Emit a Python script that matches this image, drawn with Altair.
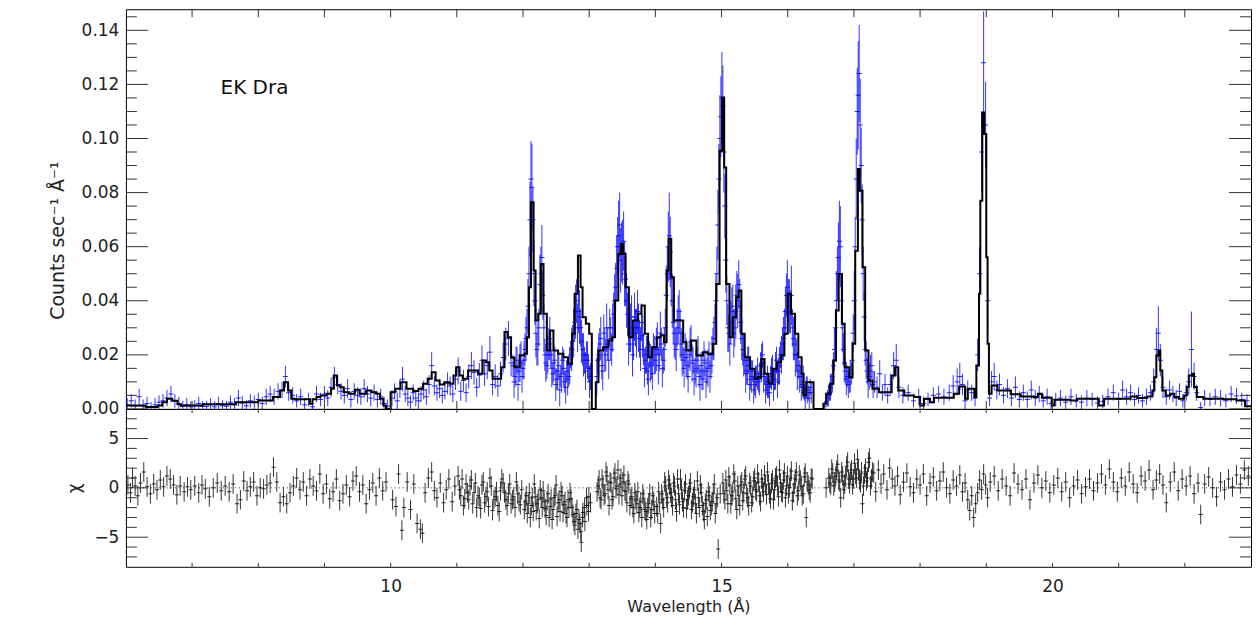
import altair as alt
import pandas as pd

FONT = "DejaVu Sans"

# ---------------- model spectrum (step line): wavelength (A), counts/s/A ----------------
model_pts = [
    (6.00, 0.0013), (6.30, 0.0007), (6.48, 0.0013), (6.55, 0.0025), (6.62, 0.0038), (6.70, 0.0030),
    (6.78, 0.0017), (6.83, 0.0013), (7.16, 0.0017), (7.66, 0.0025), (8.00, 0.0031), (8.22, 0.0044),
    (8.33, 0.0068), (8.39, 0.0099), (8.45, 0.0068), (8.50, 0.0038), (8.55, 0.0036), (8.78, 0.0019),
    (8.82, 0.0036), (8.88, 0.0044), (8.94, 0.0050), (9.03, 0.0056), (9.10, 0.0075), (9.14, 0.0124),
    (9.19, 0.0087), (9.24, 0.0080), (9.29, 0.0062), (9.37, 0.0056), (9.46, 0.0071), (9.53, 0.0056),
    (9.63, 0.0068), (9.71, 0.0062), (9.78, 0.0056), (9.84, 0.0038), (9.89, 0.0013), (9.93, 0.0),
    (10.00, 0.0062), (10.07, 0.0075), (10.15, 0.0099), (10.24, 0.0075), (10.34, 0.0066), (10.42, 0.0075),
    (10.49, 0.0093), (10.56, 0.0112), (10.62, 0.0136), (10.68, 0.0105), (10.74, 0.0090), (10.81, 0.0099),
    (10.89, 0.0093), (10.95, 0.0124), (10.99, 0.0154), (11.04, 0.0124), (11.09, 0.0112), (11.17, 0.0142),
    (11.32, 0.0130), (11.39, 0.0179), (11.44, 0.0173), (11.49, 0.0142), (11.54, 0.0112), (11.67, 0.0154),
    (11.72, 0.0284), (11.77, 0.0265), (11.82, 0.0190), (11.87, 0.0154), (11.95, 0.0198), (12.02, 0.0204),
    (12.06, 0.0265), (12.09, 0.0450), (12.12, 0.0764), (12.16, 0.0512), (12.19, 0.0327), (12.23, 0.0352),
    (12.27, 0.0536), (12.31, 0.0352), (12.36, 0.0216), (12.41, 0.0290), (12.46, 0.0216), (12.53, 0.0204),
    (12.61, 0.0191), (12.68, 0.0167), (12.74, 0.0278), (12.78, 0.0426), (12.83, 0.0567), (12.87, 0.0450),
    (12.90, 0.0339), (12.95, 0.0315), (13.00, 0.0278), (13.04, 0.0), (13.10, 0.0099), (13.14, 0.0216),
    (13.21, 0.0228), (13.29, 0.0253), (13.35, 0.0265), (13.39, 0.0401), (13.44, 0.0573), (13.48, 0.0610),
    (13.51, 0.0573), (13.55, 0.0450), (13.60, 0.0265), (13.66, 0.0327), (13.74, 0.0352), (13.79, 0.0382),
    (13.84, 0.0278), (13.89, 0.0191), (13.95, 0.0228), (14.02, 0.0265), (14.08, 0.0272), (14.13, 0.0247),
    (14.17, 0.0512), (14.20, 0.0629), (14.24, 0.0487), (14.28, 0.0327), (14.42, 0.0247), (14.47, 0.0216),
    (14.54, 0.0253), (14.62, 0.0198), (14.72, 0.0210), (14.79, 0.0204), (14.87, 0.0241), (14.92, 0.0462),
    (14.97, 0.0955), (15.01, 0.1152), (15.04, 0.0893), (15.07, 0.0462), (15.12, 0.0265), (15.17, 0.0339),
    (15.22, 0.0413), (15.26, 0.0438), (15.30, 0.0278), (15.35, 0.0191), (15.43, 0.0149), (15.50, 0.0112),
    (15.55, 0.0117), (15.60, 0.0185), (15.65, 0.0130), (15.71, 0.0093), (15.77, 0.0149), (15.84, 0.0173),
    (15.90, 0.0198), (15.95, 0.0278), (16.00, 0.0426), (16.05, 0.0352), (16.11, 0.0278), (16.16, 0.0191),
    (16.21, 0.0130), (16.24, 0.0050), (16.28, 0.0099), (16.39, 0.0), (16.54, 0.0019), (16.58, 0.0056),
    (16.64, 0.0093), (16.69, 0.0179), (16.73, 0.0364), (16.77, 0.0499), (16.82, 0.0315), (16.86, 0.0154),
    (16.93, 0.0117), (16.98, 0.0241), (17.02, 0.0585), (17.06, 0.0887), (17.09, 0.0807), (17.13, 0.0524),
    (17.17, 0.0216), (17.22, 0.0105), (17.28, 0.0075), (17.38, 0.0062), (17.57, 0.0124), (17.62, 0.0154),
    (17.67, 0.0068), (17.76, 0.0050), (17.91, 0.0044), (18.00, 0.0013), (18.06, 0.0038), (18.15, 0.0025),
    (18.21, 0.0041), (18.51, 0.0056), (18.59, 0.0083), (18.68, 0.0038), (18.72, 0.0075), (18.82, 0.0044),
    (18.85, 0.0161), (18.89, 0.0426), (18.91, 0.0770), (18.94, 0.1096), (18.97, 0.1017), (19.00, 0.0561),
    (19.02, 0.0241), (19.04, 0.0056), (19.08, 0.0087), (19.17, 0.0068), (19.37, 0.0054), (19.52, 0.0046),
    (19.72, 0.0044), (19.78, 0.0056), (19.84, 0.0041), (19.99, 0.0013), (20.03, 0.0034), (20.27, 0.0031),
    (20.37, 0.0038), (20.70, 0.0013), (20.78, 0.0038), (21.18, 0.0046), (21.28, 0.0040), (21.43, 0.0046),
    (21.51, 0.0068), (21.54, 0.0117), (21.57, 0.0198), (21.60, 0.0216), (21.63, 0.0142), (21.66, 0.0068),
    (21.71, 0.0050), (21.78, 0.0056), (21.84, 0.0044), (21.91, 0.0038), (21.99, 0.0050), (22.03, 0.0081),
    (22.06, 0.0124), (22.11, 0.0130), (22.14, 0.0081), (22.18, 0.0044), (22.28, 0.0038), (22.58, 0.0036),
    (22.78, 0.0031), (22.91, 0.0010), (23.00, 0.0010),
]

# ---------------- observed spectrum: (wavelength, flux, 1-sigma error) ----------------
obs_short = [
    (6.02, 0.0015, 0.0025), (6.08, 0.0030, 0.0025), (6.14, 0.0010, 0.0025), (6.20, 0.0045, 0.0030),
    (6.26, 0.0010, 0.0025), (6.32, 0.0020, 0.0025), (6.38, 0.0005, 0.0020), (6.44, 0.0015, 0.0025),
    (6.50, 0.0025, 0.0025), (6.56, 0.0030, 0.0025), (6.62, 0.0040, 0.0030), (6.68, 0.0055, 0.0030),
    (6.74, 0.0030, 0.0025), (6.80, 0.0020, 0.0025), (6.86, 0.0010, 0.0020), (6.92, 0.0015, 0.0025),
    (6.98, 0.0008, 0.0020), (7.04, 0.0012, 0.0020), (7.10, 0.0020, 0.0025), (7.16, 0.0009, 0.0020),
    (7.22, 0.0010, 0.0020), (7.28, 0.0015, 0.0025), (7.34, 0.0008, 0.0020), (7.40, 0.0020, 0.0025),
    (7.46, 0.0012, 0.0020), (7.52, 0.0010, 0.0020), (7.58, 0.0025, 0.0025), (7.64, 0.0015, 0.0025),
    (7.70, 0.0040, 0.0030), (7.76, 0.0022, 0.0025), (7.82, 0.0012, 0.0020), (7.88, 0.0030, 0.0025),
    (7.94, 0.0025, 0.0025), (8.00, 0.0035, 0.0025), (8.06, 0.0020, 0.0025), (8.12, 0.0045, 0.0030),
    (8.18, 0.0055, 0.0030), (8.24, 0.0045, 0.0030), (8.30, 0.0065, 0.0030), (8.36, 0.0070, 0.0030),
    (8.41, 0.0120, 0.0040), (8.46, 0.0060, 0.0030), (8.52, 0.0050, 0.0030), (8.58, 0.0030, 0.0025),
    (8.64, 0.0045, 0.0030), (8.70, 0.0015, 0.0025), (8.76, 0.0035, 0.0025), (8.82, 0.0008, 0.0020),
    (8.88, 0.0055, 0.0030), (8.94, 0.0035, 0.0025),
]
obs_mid = [
    (9.00, 0.0055, 0.0030), (9.05, 0.0040, 0.0030), (9.10, 0.0080, 0.0035), (9.15, 0.0115, 0.0040),
    (9.20, 0.0090, 0.0035), (9.25, 0.0065, 0.0030), (9.30, 0.0050, 0.0030), (9.35, 0.0075, 0.0035),
    (9.40, 0.0035, 0.0030), (9.45, 0.0065, 0.0030), (9.50, 0.0050, 0.0030), (9.55, 0.0045, 0.0030),
    (9.60, 0.0075, 0.0035), (9.65, 0.0055, 0.0030), (9.70, 0.0040, 0.0030), (9.75, 0.0060, 0.0030),
    (9.80, 0.0035, 0.0030), (9.85, 0.0045, 0.0030), (9.90, 0.0020, 0.0025), (9.95, 0.0010, 0.0025),
    (10.02, 0.0040, 0.0030), (10.06, 0.0065, 0.0030), (10.10, 0.0030, 0.0030), (10.14, 0.0075, 0.0035),
    (10.18, 0.0110, 0.0045), (10.22, 0.0055, 0.0030), (10.26, 0.0040, 0.0030), (10.30, 0.0025, 0.0025),
    (10.34, 0.0060, 0.0030), (10.38, 0.0040, 0.0030), (10.42, 0.0030, 0.0030), (10.46, 0.0055, 0.0030),
    (10.50, 0.0070, 0.0035), (10.54, 0.0045, 0.0030), (10.58, 0.0090, 0.0035), (10.62, 0.0160, 0.0050),
    (10.66, 0.0085, 0.0035), (10.70, 0.0060, 0.0030), (10.74, 0.0075, 0.0035), (10.78, 0.0050, 0.0030),
    (10.82, 0.0065, 0.0030), (10.86, 0.0095, 0.0040), (10.90, 0.0085, 0.0035), (10.94, 0.0055, 0.0030),
    (10.98, 0.0110, 0.0040), (11.02, 0.0140, 0.0050), (11.06, 0.0065, 0.0035), (11.10, 0.0105, 0.0040),
    (11.14, 0.0060, 0.0035), (11.18, 0.0120, 0.0045), (11.22, 0.0160, 0.0050), (11.26, 0.0135, 0.0045),
    (11.30, 0.0080, 0.0035), (11.34, 0.0125, 0.0045), (11.38, 0.0180, 0.0055), (11.42, 0.0130, 0.0045),
    (11.46, 0.0160, 0.0050), (11.50, 0.0210, 0.0060), (11.54, 0.0090, 0.0040), (11.58, 0.0120, 0.0045),
    (11.62, 0.0085, 0.0040), (11.66, 0.0130, 0.0045), (11.70, 0.0190, 0.0055), (11.74, 0.0240, 0.0060),
    (11.78, 0.0260, 0.0065), (11.82, 0.0170, 0.0050),
]
obs_dense = [
    (11.85, 0.016, 0.004), (11.88, 0.012, 0.004), (11.91, 0.018, 0.005), (11.94, 0.014, 0.004),
    (11.97, 0.020, 0.005), (12.00, 0.015, 0.004), (12.03, 0.022, 0.006), (12.06, 0.030, 0.007),
    (12.09, 0.050, 0.010), (12.12, 0.085, 0.014), (12.15, 0.070, 0.012), (12.18, 0.040, 0.009),
    (12.21, 0.022, 0.006), (12.24, 0.030, 0.007), (12.27, 0.050, 0.010), (12.30, 0.042, 0.009),
    (12.33, 0.020, 0.006), (12.36, 0.016, 0.005), (12.39, 0.024, 0.006), (12.42, 0.020, 0.005),
    (12.45, 0.013, 0.004), (12.48, 0.018, 0.005), (12.51, 0.011, 0.004), (12.54, 0.016, 0.005),
    (12.57, 0.012, 0.004), (12.60, 0.018, 0.005), (12.63, 0.010, 0.004), (12.66, 0.014, 0.004),
    (12.69, 0.012, 0.004), (12.72, 0.020, 0.005), (12.75, 0.025, 0.006), (12.78, 0.032, 0.007),
    (12.81, 0.040, 0.008), (12.84, 0.036, 0.008), (12.87, 0.030, 0.007), (12.90, 0.022, 0.006),
    (12.93, 0.018, 0.005), (12.96, 0.020, 0.005), (12.99, 0.015, 0.005), (13.02, 0.012, 0.005),
    (13.13, 0.018, 0.005), (13.16, 0.024, 0.006), (13.19, 0.016, 0.005), (13.22, 0.028, 0.007),
    (13.25, 0.020, 0.006), (13.28, 0.024, 0.006), (13.31, 0.030, 0.007), (13.34, 0.022, 0.006),
    (13.37, 0.035, 0.008), (13.40, 0.045, 0.009), (13.43, 0.060, 0.011), (13.46, 0.068, 0.012),
    (13.49, 0.058, 0.011), (13.52, 0.062, 0.011), (13.55, 0.048, 0.010), (13.58, 0.035, 0.008),
    (13.61, 0.028, 0.007), (13.64, 0.034, 0.008), (13.67, 0.024, 0.006), (13.70, 0.030, 0.007),
    (13.73, 0.036, 0.008), (13.76, 0.026, 0.007), (13.79, 0.032, 0.007), (13.82, 0.022, 0.006),
    (13.85, 0.018, 0.005), (13.88, 0.014, 0.005), (13.91, 0.020, 0.005), (13.94, 0.016, 0.005),
    (13.97, 0.022, 0.006), (14.00, 0.018, 0.005), (14.03, 0.026, 0.006), (14.06, 0.020, 0.006),
    (14.09, 0.024, 0.006), (14.12, 0.018, 0.005), (14.15, 0.030, 0.007), (14.18, 0.050, 0.010),
    (14.21, 0.064, 0.016), (14.24, 0.048, 0.010), (14.27, 0.032, 0.008), (14.30, 0.024, 0.006),
    (14.33, 0.030, 0.007), (14.36, 0.036, 0.008), (14.39, 0.024, 0.006), (14.42, 0.018, 0.005),
    (14.45, 0.022, 0.006), (14.48, 0.016, 0.005), (14.51, 0.020, 0.005), (14.54, 0.025, 0.006),
    (14.57, 0.018, 0.005), (14.60, 0.014, 0.005), (14.63, 0.018, 0.005), (14.66, 0.012, 0.004),
    (14.69, 0.016, 0.005), (14.72, 0.011, 0.004), (14.75, 0.017, 0.005), (14.78, 0.014, 0.005),
    (14.81, 0.020, 0.005), (14.84, 0.016, 0.005), (14.87, 0.024, 0.006), (14.90, 0.032, 0.007),
    (14.93, 0.050, 0.010), (14.96, 0.085, 0.013), (14.99, 0.108, 0.015), (15.02, 0.112, 0.015),
    (15.05, 0.075, 0.012), (15.08, 0.040, 0.009), (15.11, 0.028, 0.007), (15.14, 0.032, 0.008),
    (15.17, 0.038, 0.008), (15.20, 0.030, 0.007), (15.23, 0.042, 0.009), (15.26, 0.046, 0.009),
    (15.29, 0.032, 0.008), (15.32, 0.022, 0.006), (15.35, 0.018, 0.005), (15.38, 0.014, 0.005),
    (15.41, 0.018, 0.005), (15.44, 0.011, 0.004), (15.47, 0.014, 0.004), (15.50, 0.009, 0.004),
    (15.53, 0.012, 0.004), (15.56, 0.010, 0.004), (15.59, 0.016, 0.005), (15.62, 0.020, 0.005),
    (15.65, 0.013, 0.004), (15.68, 0.009, 0.004), (15.71, 0.008, 0.004), (15.74, 0.012, 0.004),
    (15.77, 0.015, 0.005), (15.80, 0.011, 0.004), (15.83, 0.018, 0.005), (15.86, 0.014, 0.005),
    (15.89, 0.020, 0.005), (15.92, 0.024, 0.006), (15.95, 0.030, 0.007), (15.98, 0.042, 0.008),
    (16.01, 0.040, 0.008), (16.04, 0.036, 0.008), (16.07, 0.030, 0.007), (16.10, 0.024, 0.006),
    (16.13, 0.020, 0.006), (16.16, 0.016, 0.005), (16.19, 0.012, 0.004), (16.22, 0.009, 0.004),
    (16.25, 0.006, 0.003), (16.28, 0.008, 0.004), (16.31, 0.006, 0.003), (16.34, 0.008, 0.003),
    (16.56, 0.001, 0.002), (16.60, 0.004, 0.003), (16.63, 0.006, 0.003), (16.66, 0.009, 0.004),
    (16.69, 0.016, 0.005), (16.72, 0.030, 0.007), (16.75, 0.050, 0.010), (16.78, 0.062, 0.015),
    (16.81, 0.040, 0.009), (16.84, 0.022, 0.006), (16.87, 0.014, 0.005), (16.90, 0.012, 0.004),
    (16.93, 0.010, 0.004), (16.96, 0.013, 0.004), (16.99, 0.028, 0.007), (17.02, 0.060, 0.011),
    (17.05, 0.110, 0.016), (17.08, 0.124, 0.018), (17.11, 0.090, 0.014), (17.14, 0.050, 0.010),
    (17.17, 0.022, 0.006), (17.20, 0.014, 0.005), (17.23, 0.012, 0.005), (17.27, 0.016, 0.005),
    (17.31, 0.010, 0.004), (17.35, 0.008, 0.004), (17.39, 0.013, 0.005), (17.43, 0.006, 0.003),
    (17.47, 0.009, 0.004), (17.51, 0.005, 0.003), (17.55, 0.009, 0.004), (17.60, 0.016, 0.005),
    (17.64, 0.018, 0.006), (17.68, 0.008, 0.004),
]
# interleaved bins of the dense 12-17 A region
obs_dense2 = [
    (11.865, 0.010, 0.006), (11.895, 0.016, 0.007), (11.925, 0.009, 0.006), (11.955, 0.017, 0.007),
    (11.985, 0.012, 0.006), (12.015, 0.018, 0.007), (12.045, 0.026, 0.008), (12.075, 0.038, 0.010),
    (12.105, 0.070, 0.014), (12.135, 0.082, 0.016), (12.165, 0.050, 0.012), (12.195, 0.028, 0.009),
    (12.225, 0.024, 0.008), (12.255, 0.046, 0.011), (12.285, 0.056, 0.012), (12.315, 0.030, 0.009),
    (12.345, 0.017, 0.007), (12.375, 0.020, 0.007), (12.405, 0.026, 0.008), (12.435, 0.015, 0.007),
    (12.465, 0.017, 0.007), (12.495, 0.009, 0.006), (12.525, 0.014, 0.007), (12.555, 0.007, 0.006),
    (12.585, 0.013, 0.007), (12.615, 0.015, 0.007), (12.645, 0.008, 0.006), (12.675, 0.011, 0.006),
    (12.705, 0.016, 0.007), (12.735, 0.022, 0.008), (12.765, 0.028, 0.009), (12.795, 0.036, 0.010),
    (12.825, 0.030, 0.009), (12.855, 0.034, 0.010), (12.885, 0.025, 0.008), (12.915, 0.020, 0.008),
    (12.945, 0.014, 0.007), (12.975, 0.018, 0.007), (13.005, 0.010, 0.006),
    (13.115, 0.012, 0.007), (13.145, 0.020, 0.008), (13.175, 0.026, 0.008), (13.205, 0.014, 0.007),
    (13.235, 0.022, 0.008), (13.265, 0.030, 0.009), (13.295, 0.018, 0.007), (13.325, 0.026, 0.008),
    (13.355, 0.030, 0.009), (13.385, 0.040, 0.010), (13.415, 0.052, 0.012), (13.445, 0.064, 0.013),
    (13.475, 0.055, 0.012), (13.505, 0.058, 0.012), (13.535, 0.050, 0.012), (13.565, 0.040, 0.010),
    (13.595, 0.024, 0.008), (13.625, 0.030, 0.009), (13.655, 0.020, 0.008), (13.685, 0.034, 0.009),
    (13.715, 0.028, 0.009), (13.745, 0.030, 0.009), (13.775, 0.022, 0.008), (13.805, 0.027, 0.008),
    (13.835, 0.015, 0.007), (13.865, 0.020, 0.007), (13.895, 0.011, 0.006), (13.925, 0.017, 0.007),
    (13.955, 0.013, 0.006), (13.985, 0.020, 0.007), (14.015, 0.022, 0.008), (14.045, 0.016, 0.007),
    (14.075, 0.028, 0.008), (14.105, 0.015, 0.007), (14.135, 0.022, 0.008), (14.165, 0.042, 0.011),
    (14.195, 0.060, 0.013), (14.225, 0.058, 0.013), (14.255, 0.040, 0.010), (14.285, 0.028, 0.009),
    (14.315, 0.022, 0.008), (14.345, 0.033, 0.009), (14.375, 0.028, 0.009), (14.405, 0.020, 0.008),
    (14.435, 0.015, 0.007), (14.465, 0.019, 0.007), (14.495, 0.012, 0.006), (14.525, 0.022, 0.008),
    (14.555, 0.017, 0.007), (14.585, 0.011, 0.006), (14.615, 0.015, 0.007), (14.645, 0.020, 0.007),
    (14.675, 0.009, 0.006), (14.705, 0.014, 0.007), (14.735, 0.018, 0.007), (14.765, 0.010, 0.006),
    (14.795, 0.015, 0.007), (14.825, 0.012, 0.006), (14.855, 0.020, 0.007), (14.885, 0.026, 0.008),
    (14.915, 0.040, 0.010), (14.945, 0.068, 0.013), (14.975, 0.100, 0.016), (15.005, 0.115, 0.017),
    (15.035, 0.095, 0.015), (15.065, 0.055, 0.012), (15.095, 0.030, 0.009), (15.125, 0.024, 0.008),
    (15.155, 0.036, 0.009), (15.185, 0.028, 0.009), (15.215, 0.036, 0.010), (15.245, 0.040, 0.010),
    (15.275, 0.038, 0.010), (15.305, 0.026, 0.008), (15.335, 0.020, 0.008), (15.365, 0.013, 0.007),
    (15.395, 0.016, 0.007), (15.425, 0.009, 0.006), (15.455, 0.012, 0.006), (15.485, 0.007, 0.005),
    (15.515, 0.010, 0.006), (15.545, 0.013, 0.006), (15.575, 0.011, 0.006), (15.605, 0.017, 0.007),
    (15.635, 0.012, 0.006), (15.665, 0.007, 0.005), (15.695, 0.010, 0.006), (15.725, 0.006, 0.005),
    (15.755, 0.013, 0.006), (15.785, 0.009, 0.006), (15.815, 0.014, 0.007), (15.845, 0.010, 0.006),
    (15.875, 0.016, 0.007), (15.905, 0.020, 0.007), (15.935, 0.026, 0.008), (15.965, 0.036, 0.009),
    (15.995, 0.045, 0.010), (16.025, 0.038, 0.010), (16.055, 0.042, 0.011), (16.085, 0.026, 0.008),
    (16.115, 0.020, 0.008), (16.145, 0.014, 0.007), (16.175, 0.012, 0.006), (16.205, 0.008, 0.005),
    (16.235, 0.010, 0.006), (16.265, 0.004, 0.004), (16.295, 0.007, 0.005), (16.325, 0.004, 0.004),
    (16.355, 0.006, 0.004),
    (16.615, 0.005, 0.004), (16.645, 0.008, 0.005), (16.675, 0.012, 0.006), (16.705, 0.022, 0.008),
    (16.735, 0.040, 0.011), (16.765, 0.056, 0.013), (16.795, 0.060, 0.015), (16.825, 0.030, 0.009),
    (16.855, 0.017, 0.007), (16.885, 0.011, 0.006), (16.915, 0.009, 0.005), (16.945, 0.012, 0.006),
    (16.975, 0.018, 0.007), (17.005, 0.040, 0.011), (17.035, 0.085, 0.015), (17.065, 0.116, 0.020),
    (17.095, 0.105, 0.017), (17.125, 0.070, 0.013), (17.155, 0.034, 0.009), (17.185, 0.018, 0.007),
    (17.215, 0.010, 0.006), (17.250, 0.014, 0.006), (17.290, 0.009, 0.005),
]
obs_long = [
    (17.74, 0.0050, 0.0030), (17.82, 0.0060, 0.0030), (17.90, 0.0030, 0.0025), (17.98, 0.0045, 0.0030),
    (18.05, 0.0020, 0.0025), (18.12, 0.0035, 0.0025), (18.20, 0.0050, 0.0030), (18.28, 0.0055, 0.0030),
    (18.36, 0.0045, 0.0030), (18.44, 0.0060, 0.0030), (18.50, 0.0085, 0.0040), (18.56, 0.0100, 0.0050),
    (18.60, 0.0120, 0.0050), (18.64, 0.0090, 0.0040), (18.68, 0.0030, 0.0030), (18.72, 0.0070, 0.0035),
    (18.78, 0.0060, 0.0030), (18.83, 0.0040, 0.0030), (18.87, 0.0200, 0.0060), (18.90, 0.0500, 0.0100),
    (18.93, 0.0950, 0.0150), (18.96, 0.1280, 0.0190), (18.99, 0.1050, 0.0160), (19.02, 0.0400, 0.0090),
    (19.05, 0.0040, 0.0030), (19.08, 0.0100, 0.0040), (19.12, 0.0120, 0.0050), (19.16, 0.0070, 0.0035),
    (19.20, 0.0090, 0.0040), (19.26, 0.0050, 0.0030), (19.32, 0.0075, 0.0035), (19.38, 0.0040, 0.0030),
    (19.44, 0.0080, 0.0040), (19.50, 0.0035, 0.0030), (19.56, 0.0060, 0.0030), (19.62, 0.0035, 0.0030),
    (19.68, 0.0070, 0.0035), (19.74, 0.0040, 0.0030), (19.80, 0.0055, 0.0030), (19.86, 0.0030, 0.0025),
    (19.92, 0.0045, 0.0030), (19.98, 0.0020, 0.0025), (20.05, 0.0035, 0.0025), (20.12, 0.0040, 0.0030),
    (20.20, 0.0025, 0.0025), (20.28, 0.0045, 0.0030), (20.36, 0.0030, 0.0025), (20.44, 0.0025, 0.0025),
    (20.52, 0.0040, 0.0030), (20.60, 0.0035, 0.0025), (20.68, 0.0022, 0.0025), (20.76, 0.0028, 0.0025),
    (20.84, 0.0045, 0.0030), (20.92, 0.0060, 0.0030), (21.00, 0.0035, 0.0025), (21.06, 0.0070, 0.0035),
    (21.12, 0.0045, 0.0030), (21.18, 0.0060, 0.0030), (21.24, 0.0035, 0.0025), (21.30, 0.0050, 0.0030),
    (21.36, 0.0030, 0.0025), (21.42, 0.0045, 0.0030), (21.48, 0.0060, 0.0030), (21.53, 0.0100, 0.0050),
    (21.57, 0.0220, 0.0080), (21.60, 0.0280, 0.0100), (21.63, 0.0180, 0.0060), (21.67, 0.0080, 0.0040),
    (21.72, 0.0045, 0.0030), (21.77, 0.0070, 0.0035), (21.82, 0.0055, 0.0030), (21.87, 0.0040, 0.0030),
    (21.92, 0.0065, 0.0030), (21.97, 0.0030, 0.0025), (22.02, 0.0060, 0.0030), (22.06, 0.0100, 0.0050),
    (22.10, 0.0220, 0.0140), (22.14, 0.0120, 0.0050), (22.18, 0.0060, 0.0030), (22.24, 0.0005, 0.0020),
    (22.30, 0.0040, 0.0030), (22.38, 0.0035, 0.0025), (22.46, 0.0045, 0.0030), (22.54, 0.0040, 0.0030),
    (22.62, 0.0030, 0.0025), (22.70, 0.0055, 0.0030), (22.78, 0.0048, 0.0030), (22.86, 0.0035, 0.0025),
    (22.94, 0.0030, 0.0025),
]

# ---------------- residuals: (wavelength, chi) ; each chi has unit error ----------------
resid_a = [
    (6.03, 0.3), (6.07, -0.5), (6.10, 1.0), (6.14, 0.2), (6.18, -0.8), (6.22, 0.5), (6.27, 1.6), (6.32, 0.1),
    (6.37, -0.6), (6.42, 0.4), (6.47, -0.2), (6.52, 0.8), (6.57, 0.1), (6.62, 1.2), (6.67, 0.9), (6.72, 0.3),
    (6.77, -0.7), (6.82, 0.2), (6.88, -0.4), (6.93, 0.1), (6.98, -0.2), (7.04, 0.2), (7.10, -0.5), (7.15, 0.3),
    (7.20, -0.1), (7.26, -0.9), (7.32, 0.0), (7.38, 0.5), (7.44, -0.3), (7.50, 0.2), (7.56, -0.4), (7.62, 0.4),
    (7.68, -1.6), (7.73, -1.2), (7.78, 0.7), (7.83, -0.3), (7.88, 0.1), (7.93, 0.6), (7.98, -0.8), (8.03, 0.0),
    (8.08, -0.1), (8.13, 0.3), (8.18, 0.5), (8.23, 2.1), (8.28, 0.6), (8.33, -1.5), (8.38, -0.9), (8.43, -1.6),
    (8.48, -0.5), (8.53, 0.2), (8.58, 1.0), (8.63, -0.2), (8.68, 0.6), (8.73, -0.8), (8.78, 0.9), (8.83, 0.2),
    (8.88, -0.3), (8.93, 1.4), (8.98, -0.6), (9.03, 0.4), (9.08, -1.1), (9.13, -0.4), (9.18, 0.9), (9.23, -1.3),
    (9.28, -0.6), (9.33, 0.3), (9.38, -0.9), (9.43, 0.7), (9.48, 1.2), (9.53, -0.4), (9.58, 0.3), (9.63, -1.6),
    (9.68, -0.2), (9.73, 0.5), (9.78, -0.8), (9.83, 1.0), (9.88, -0.3), (9.93, 0.6),
]
resid_b = [
    (10.03, -1.2), (10.08, -1.9), (10.12, 1.4), (10.17, -4.3), (10.20, -2.0), (10.25, 0.6), (10.30, -2.2),
    (10.35, 0.4), (10.40, -3.6), (10.45, -4.2), (10.48, -4.6), (10.52, -0.5), (10.57, 1.0), (10.62, 1.6),
    (10.66, -0.3), (10.70, -1.0), (10.75, 0.5), (10.80, -1.5), (10.84, -0.2), (10.88, 0.9), (10.93, -1.4),
    (10.97, 0.2), (11.02, 1.2), (11.06, -0.8), (11.10, -1.8), (11.14, 0.4), (11.18, -1.2), (11.22, 0.8),
    (11.26, -0.5), (11.30, -2.0), (11.34, -1.0), (11.38, 0.3), (11.42, -1.5), (11.46, -0.4), (11.50, 1.0),
    (11.54, -2.3), (11.58, -0.9), (11.62, -1.8), (11.66, -0.3), (11.70, 0.5), (11.74, -1.2), (11.78, -0.6),
    (11.82, -1.6), (11.86, -0.9), (11.90, 0.6), (11.94, -1.4), (11.98, -0.2), (12.02, -2.2), (12.05, -0.8),
    (12.08, -1.6), (12.11, -3.0), (12.14, -1.0), (12.17, 0.4), (12.20, -2.3), (12.23, -1.2), (12.26, -0.2),
    (12.29, -2.0), (12.32, -1.4), (12.35, -2.8), (12.38, -0.6), (12.41, -1.9), (12.44, -3.2), (12.47, -1.0),
    (12.50, 0.3), (12.53, -1.5), (12.56, -2.4), (12.59, -0.8), (12.62, -1.7), (12.65, -2.6), (12.68, -1.2),
    (12.71, -0.5), (12.74, -2.0), (12.77, -3.4), (12.80, -2.6), (12.83, -4.2), (12.86, -3.6), (12.88, -5.5),
    (12.90, -3.0), (12.93, -2.0), (12.96, -1.0), (12.99, -2.4), (13.02, -1.5),
]
resid_c = [
    (13.12, -0.4), (13.15, 0.8), (13.18, -1.2), (13.21, 0.3), (13.24, -0.6), (13.27, 1.2), (13.30, -1.8),
    (13.33, 0.5), (13.36, -0.9), (13.39, 1.5), (13.42, 0.2), (13.45, -0.7), (13.48, 1.0), (13.51, 0.6),
    (13.54, -0.3), (13.57, -1.5), (13.60, 0.4), (13.63, -1.1), (13.66, -2.0), (13.69, -0.5), (13.72, -1.6),
    (13.75, -2.5), (13.78, -1.4), (13.81, -0.6), (13.84, -2.2), (13.87, -3.2), (13.90, -1.6), (13.93, -3.0),
    (13.96, -0.8), (13.99, -2.6), (14.02, -1.9), (14.05, -0.4), (14.08, -3.6), (14.11, -1.2), (14.14, 0.6),
    (14.17, -1.0), (14.20, 0.8), (14.23, -0.5), (14.26, -1.8), (14.29, 0.2), (14.32, -2.4), (14.35, -0.6),
    (14.38, 0.9), (14.41, -1.4), (14.44, -0.3), (14.47, -2.1), (14.50, -0.8), (14.53, 0.5), (14.56, -1.5),
    (14.59, -0.2), (14.62, -2.6), (14.65, -1.0), (14.68, 0.3), (14.71, -1.8), (14.74, -3.2), (14.77, -1.2),
    (14.80, -0.4), (14.83, -2.3), (14.86, -1.4), (14.89, 0.4), (14.92, -1.6), (14.95, -6.2), (14.98, -0.6),
    (15.02, 0.5), (15.05, -1.2), (15.08, -0.3), (15.11, 1.1), (15.14, -1.6), (15.17, -0.4), (15.20, 0.7),
    (15.23, -2.2), (15.26, -0.8), (15.29, 0.3), (15.32, -1.3), (15.35, 0.9), (15.38, -0.6), (15.41, -1.8),
    (15.44, 0.2), (15.47, -0.9), (15.50, 1.0), (15.53, -0.4), (15.56, 0.6), (15.59, -1.4), (15.62, 0.1),
    (15.65, 1.3), (15.68, -0.7), (15.71, 0.4), (15.74, -1.1), (15.77, 0.8), (15.80, -0.2), (15.83, 1.2),
    (15.86, -0.9), (15.89, 0.5), (15.92, -0.5), (15.95, 1.5), (15.98, 0.2), (16.01, -0.6), (16.04, 1.0),
    (16.07, -1.3), (16.10, 0.4), (16.13, 1.6), (16.16, -0.3), (16.19, 0.8), (16.22, -0.8), (16.25, 1.1),
    (16.28, -3.0), (16.31, 0.3), (16.34, -0.5), (16.37, 0.9),
]
resid_d = [
    (16.58, 0.0), (16.62, 1.0), (16.65, 0.3), (16.68, 1.5), (16.71, 0.6), (16.74, 1.8), (16.77, 0.8),
    (16.80, -1.0), (16.83, 1.2), (16.86, 0.4), (16.89, 2.2), (16.92, 0.9), (16.95, 1.5), (16.98, 0.3),
    (17.01, 2.5), (17.04, 1.0), (17.07, 1.8), (17.10, 0.5), (17.13, -1.6), (17.16, 1.4), (17.19, 0.7),
    (17.22, 2.6), (17.25, 0.2), (17.28, 1.6), (17.33, -0.4), (17.37, 1.8), (17.41, 0.4), (17.45, 1.4),
    (17.50, -0.2), (17.54, 2.0), (17.58, 0.9), (17.62, 0.2), (17.66, 1.2), (17.70, -0.7), (17.75, 0.6),
    (17.80, 1.5), (17.85, 0.1), (17.90, -0.5), (17.95, 0.9), (18.00, 0.3), (18.05, 1.4), (18.10, -0.8),
    (18.15, 0.5), (18.20, 1.1), (18.25, -0.3), (18.30, 0.7), (18.35, 1.6), (18.40, 0.0), (18.45, -0.6),
    (18.50, 0.8), (18.55, 0.2), (18.60, 1.3), (18.64, -0.4), (18.68, 0.5), (18.72, -1.2), (18.75, -2.3),
    (18.78, -0.8), (18.81, -3.0), (18.84, -1.6), (18.87, -0.5), (18.90, 0.8), (18.93, -0.2), (18.96, 1.4),
    (18.99, 0.3), (19.02, -1.0), (19.06, 0.6), (19.12, 1.2), (19.18, -0.3), (19.24, 0.9), (19.30, 0.2),
    (19.36, -0.8), (19.42, 1.5), (19.48, 0.4), (19.54, -0.2), (19.60, 0.9), (19.66, -1.2), (19.72, 0.5),
    (19.78, 1.3), (19.84, 0.0), (19.90, 0.7), (19.96, -0.5), (20.02, 0.3), (20.08, 1.0), (20.14, -0.4),
    (20.20, 0.6), (20.26, -1.0), (20.32, 0.2), (20.38, 0.8), (20.44, -0.6), (20.50, 0.1), (20.56, 0.9),
    (20.62, -0.3), (20.68, 0.5), (20.74, 1.4), (20.80, 0.3), (20.86, 1.9), (20.92, 0.6), (20.98, -0.4),
    (21.04, 1.0), (21.10, 0.2), (21.16, 1.6), (21.22, 0.4), (21.28, -0.5), (21.34, 1.2), (21.40, 0.7),
    (21.46, 1.8), (21.52, -0.2), (21.57, 0.8), (21.62, 1.4), (21.67, 0.3), (21.72, -1.5), (21.78, 0.6),
    (21.84, 1.6), (21.90, -0.3), (21.96, 0.9), (22.02, 0.2), (22.08, 1.2), (22.14, -0.6), (22.20, 0.5),
    (22.24, -2.7), (22.30, 0.4), (22.36, 1.1), (22.42, 0.0), (22.48, -0.9), (22.54, 0.6), (22.60, -0.2),
    (22.66, 0.9), (22.72, 0.1), (22.78, 1.3), (22.84, 0.4), (22.90, 1.8), (22.96, 1.2),
]
# interleaved residual bins of the dense 11-17.3 A region
resid_e = [
    (11.04, -0.2), (11.08, 0.9), (11.12, -1.1), (11.16, -0.5), (11.20, 0.2), (11.24, -1.6), (11.28, 0.5),
    (11.32, -0.8), (11.36, -2.1), (11.40, 0.6), (11.44, -0.9), (11.48, -1.9), (11.52, 0.2), (11.56, -1.2),
    (11.60, -0.4), (11.64, -2.4), (11.68, 0.9), (11.72, -0.5), (11.76, -1.8), (11.80, 0.4), (11.84, -1.2),
    (11.88, -2.0), (11.92, -0.6), (11.96, -1.7), (12.035, -1.4), (12.065, -2.6), (12.095, -0.5),
    (12.125, -1.8), (12.155, -2.4), (12.185, -0.9), (12.215, -1.6), (12.245, -3.1), (12.275, -1.0),
    (12.305, -0.3), (12.335, -2.1), (12.365, -1.3), (12.395, -3.0), (12.425, -1.1), (12.455, -2.2),
    (12.485, -0.8), (12.515, -2.9), (12.545, -1.2), (12.575, -0.4), (12.605, -2.5), (12.635, -1.4),
    (12.665, -3.0), (12.695, -2.0), (12.725, -1.1), (12.755, -2.7), (12.785, -3.8), (12.815, -2.2),
    (12.845, -3.2), (12.875, -4.4), (12.905, -2.5), (12.935, -3.4), (12.965, -1.8), (12.995, -0.9),
    (13.135, 0.2), (13.165, -1.0), (13.195, 0.9), (13.225, -0.8), (13.255, 1.6), (13.285, -0.2),
    (13.315, 0.6), (13.345, -1.2), (13.375, 1.0), (13.405, -0.1), (13.435, 1.8), (13.465, 0.4),
    (13.495, -0.8), (13.525, 1.3), (13.555, -0.4), (13.585, 0.7), (13.615, -1.8), (13.645, -0.9),
    (13.675, -2.6), (13.705, -1.2), (13.735, -0.4), (13.765, -2.0), (13.795, -3.0), (13.825, -1.1),
    (13.855, -2.4), (13.885, -2.0), (13.915, -0.6), (13.945, -2.2), (13.975, -1.4), (14.035, -2.6),
    (14.065, -1.5), (14.095, -0.6), (14.125, -2.0), (14.155, 0.2), (14.185, -1.5), (14.215, 0.3),
    (14.245, -1.0), (14.275, 0.5), (14.305, -1.2), (14.335, 0.9), (14.365, -1.7), (14.395, -0.2),
    (14.425, -2.0), (14.455, 0.4), (14.485, -1.2), (14.515, -0.1), (14.545, -2.2), (14.575, -0.9),
    (14.605, -1.6), (14.635, 0.7), (14.665, -2.0), (14.695, -0.5), (14.725, -2.4), (14.755, -1.6),
    (14.785, -2.9), (14.815, -0.8), (14.845, -1.8), (14.875, -0.6), (14.905, -2.6), (14.935, -1.0),
    (15.035, -0.6), (15.065, 0.8), (15.095, -1.6), (15.125, 0.3), (15.155, -0.8), (15.185, 1.4),
    (15.215, -1.1), (15.245, 0.2), (15.275, -1.8), (15.305, 0.6), (15.335, -0.5), (15.365, 1.2),
    (15.395, -1.0), (15.425, 0.5), (15.455, -1.5), (15.485, 0.7), (15.515, -0.2), (15.545, 1.4),
    (15.575, -0.8), (15.605, 0.9), (15.635, -0.4), (15.665, 0.3), (15.695, 1.6), (15.725, -0.6),
    (15.755, 0.5), (15.785, -1.2), (15.815, 1.0), (15.845, 0.2), (15.875, 1.8), (15.905, -0.4),
    (15.935, 0.8), (15.965, -1.0), (15.995, 1.2), (16.025, 0.0), (16.055, 1.7), (16.085, -0.5),
    (16.115, 0.9), (16.145, -0.8), (16.175, 1.3), (16.205, 0.2), (16.235, -0.6), (16.265, 1.5),
    (16.295, 0.6), (16.325, -0.2), (16.355, 1.0), (16.635, 0.5), (16.665, 1.9), (16.695, 0.2),
    (16.725, 1.2), (16.755, 2.4), (16.785, 0.6), (16.815, 1.6), (16.845, -0.2), (16.875, 1.1),
    (16.905, 2.6), (16.935, 0.4), (16.965, 1.8), (16.995, 0.9), (17.025, 1.4), (17.055, 2.9),
    (17.085, 0.8), (17.115, 1.6), (17.145, 0.2), (17.175, 2.0), (17.205, 1.0), (17.235, 3.0),
    (17.265, 0.9), (17.300, 1.5),
]

# ---------------- axis tick values ----------------
wave_ticks = [7, 8, 9, 10, 11, 12, 13, 14, 15, 16, 17, 18, 19, 20, 21, 22]
wave_labels = [10, 15, 20]
flux_major = [0.0, 0.02, 0.04, 0.06, 0.08, 0.10, 0.12, 0.14]
flux_minor = [0.005, 0.01, 0.015, 0.025, 0.03, 0.035, 0.045, 0.05, 0.055, 0.065, 0.07, 0.075,
              0.085, 0.09, 0.095, 0.105, 0.11, 0.115, 0.125, 0.13, 0.135, 0.145]
chi_major = [-5, 0, 5]
chi_minor = [-7, -6, -4, -3, -2, -1, 1, 2, 3, 4, 6, 7]
star_label = ["EK Dra"]
star_pos = [(7.43, 0.1188)]

# ---------------- frames ----------------
model_df = pd.DataFrame(model_pts, columns=["w", "f"])
obs_df = pd.DataFrame(obs_short + obs_mid + obs_dense + obs_dense2 + obs_long, columns=["w", "f", "e"])
res_df = pd.DataFrame(resid_a + resid_b + resid_c + resid_d + resid_e, columns=["w", "chi"])
res_df["e"] = 1.0

W = 1126
H1 = 400
H2 = 158
XDOM = [6, 23]
YDOM = [0, 0.1478]
CDOM = [-8, 8]

xs = alt.Scale(domain=XDOM, nice=False, zero=False)
ys = alt.Scale(domain=YDOM, nice=False, zero=False)
cs = alt.Scale(domain=CDOM, nice=False, zero=False)

TICKC = "#333333"

top_y_axis = alt.Axis(
    values=flux_major, format=".2f", title="Counts  sec⁻¹  Å⁻¹",
    ticks=False, domain=False, grid=False, labelPadding=7, titleFontSize=19,
    titleX=-58, titleY=231, titleAngle=270, titleAlign="center", titleBaseline="bottom",
)
bot_x_axis = alt.Axis(
    values=wave_labels, format="d", title="Wavelength (Å)", ticks=False,
    domain=False, grid=False, labelPadding=12, titlePadding=4,
)
bot_y_axis = alt.Axis(
    values=chi_major, format="d", title="χ", ticks=False, domain=False, grid=False,
    labelPadding=7, titleX=-42, titleY=79, titleAngle=270, titleAlign="center", titleBaseline="bottom",
)


def xticks(scale, xaxis, n_len, height):
    d = pd.DataFrame({"t": wave_ticks})
    b = alt.Chart(d).mark_rule(color=TICKC, strokeWidth=1)
    enc_x = alt.X("t:Q", scale=scale, axis=xaxis)
    bottom = b.encode(x=enc_x, y=alt.value(height), y2=alt.value(height - n_len))
    top = b.encode(x=enc_x, y=alt.value(0), y2=alt.value(n_len))
    return [bottom, top]


def yticks(vals, scale, yaxis, length):
    d = pd.DataFrame({"t": vals})
    b = alt.Chart(d).mark_rule(color=TICKC, strokeWidth=1)
    enc_y = alt.Y("t:Q", scale=scale, axis=yaxis)
    left = b.encode(y=enc_y, x=alt.value(0), x2=alt.value(length))
    right = b.encode(y=enc_y, x=alt.value(W), x2=alt.value(W - length))
    return [left, right]


# ---------------- top panel ----------------
obs_base = alt.Chart(obs_df).transform_calculate(lo="datum.f - datum.e", hi="datum.f + datum.e")

obs_bars = obs_base.mark_rule(color="#0000ff", strokeWidth=1, opacity=0.8, clip=True).encode(
    x=alt.X("w:Q", scale=xs, axis=None),
    y=alt.Y("lo:Q", scale=ys, axis=top_y_axis),
    y2="hi:Q",
)
obs_marks = obs_base.mark_tick(color="#0000ff", orient="horizontal", size=5, thickness=1, opacity=0.85, clip=True).encode(
    x=alt.X("w:Q", scale=xs, axis=None),
    y=alt.Y("f:Q", scale=ys, axis=top_y_axis),
)
model_line = alt.Chart(model_df).mark_line(color="black", strokeWidth=2, interpolate="step-after", clip=True).encode(
    x=alt.X("w:Q", scale=xs, axis=None),
    y=alt.Y("f:Q", scale=ys, axis=top_y_axis),
)
label_df = pd.DataFrame({"w": [p[0] for p in star_pos], "f": [p[1] for p in star_pos], "t": star_label})
star_text = alt.Chart(label_df).mark_text(align="left", baseline="middle", fontSize=20, font=FONT, color="#111").encode(
    x=alt.X("w:Q", scale=xs, axis=None),
    y=alt.Y("f:Q", scale=ys, axis=top_y_axis),
    text="t:N",
)

top = alt.layer(
    obs_bars, obs_marks, model_line, star_text,
    *xticks(xs, None, 8, H1),
    *yticks(flux_major, ys, top_y_axis, 22),
    *yticks(flux_minor, ys, top_y_axis, 11),
).properties(width=W, height=H1)

# ---------------- bottom panel ----------------
res_base = alt.Chart(res_df).transform_calculate(lo="datum.chi - datum.e", hi="datum.chi + datum.e")
res_bars = res_base.mark_rule(color="#111111", strokeWidth=1, opacity=0.85, clip=True).encode(
    x=alt.X("w:Q", scale=xs, axis=bot_x_axis),
    y=alt.Y("lo:Q", scale=cs, axis=bot_y_axis),
    y2="hi:Q",
)
res_marks = res_base.mark_tick(color="#111111", orient="horizontal", size=4, thickness=1, opacity=0.9, clip=True).encode(
    x=alt.X("w:Q", scale=xs, axis=bot_x_axis),
    y=alt.Y("chi:Q", scale=cs, axis=bot_y_axis),
)
zero_df = pd.DataFrame({"z": [0]})
zero_line = alt.Chart(zero_df).mark_rule(color="#333333", strokeWidth=1, strokeDash=[1, 3]).encode(
    y=alt.Y("z:Q", scale=cs, axis=bot_y_axis)
)

bottom = alt.layer(
    res_bars, res_marks, zero_line,
    *xticks(xs, bot_x_axis, 4, H2),
    *yticks(chi_major, cs, bot_y_axis, 22),
    *yticks(chi_minor, cs, bot_y_axis, 11),
).properties(width=W, height=H2)

chart = alt.vconcat(top, bottom, spacing=0, bounds="flush").properties(
    padding={"left": 40, "top": 0, "right": 0, "bottom": 0},
).configure_view(
    stroke="black", strokeWidth=1
).configure_axis(
    labelFont=FONT, titleFont=FONT, labelFontSize=17, titleFontSize=17,
    labelColor="#222222", titleColor="#222222", titleFontWeight="normal",
).configure_axisX(titleFontSize=16)

chart.save("out.html", embed_options={"renderer": "svg", "actions": False})
